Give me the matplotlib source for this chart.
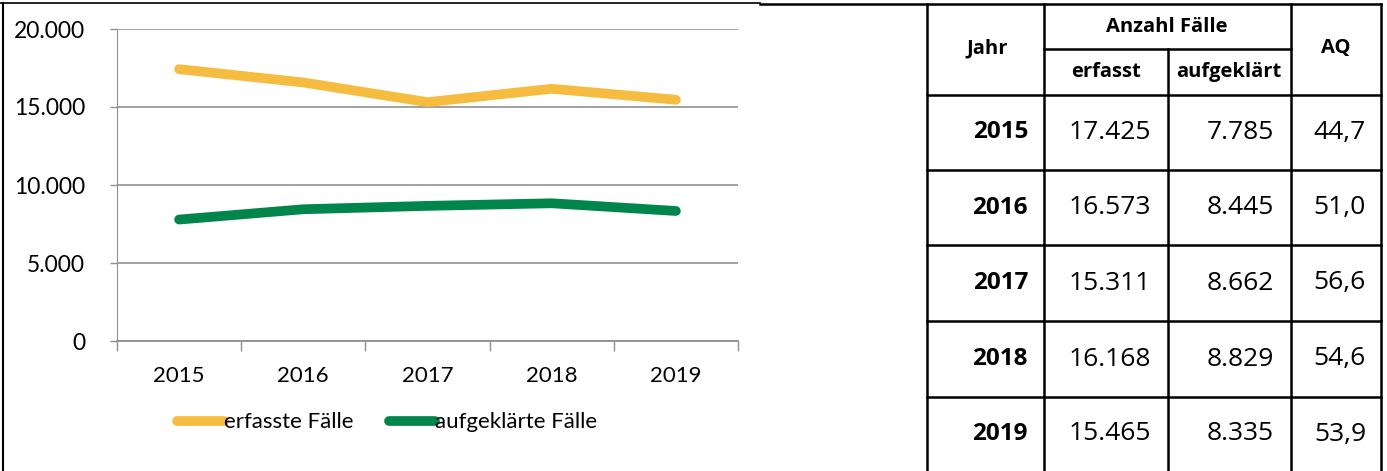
import numpy as np
import matplotlib.pyplot as plt
from matplotlib.lines import Line2D

jahre = [2015, 2016, 2017, 2018, 2019]
erfasst = [17425, 16573, 15311, 16168, 15465]
aufgeklaert = [7785, 8445, 8662, 8829, 8335]
aq = [44.7, 51.0, 56.6, 54.6, 53.9]

gelb = '#F6BC3F'
gruen = '#00854A'

W, H = 1387, 471

def px(x, y):
    # pixel coords -> figure fraction
    return x / W, 1 - y / H

def tausend(v):
    return f'{v:,.0f}'.replace(',', '.')

fig = plt.figure(figsize=(W / 100, H / 100), dpi=100)

chart_font = ['Lato', 'DejaVu Sans']
tab_font = ['Open Sans', 'DejaVu Sans']

# --- linienchart ---
ax = fig.add_axes([117 / W, 1 - 341 / H, (738 - 117) / W, (341 - 29) / H])
x = np.arange(len(jahre))
ax.plot(x, erfasst, color=gelb, lw=7, solid_capstyle='round', solid_joinstyle='round',
        label='erfasste Fälle')
ax.plot(x, aufgeklaert, color=gruen, lw=7, solid_capstyle='round', solid_joinstyle='round',
        label='aufgeklärte Fälle')
ax.set_xlim(-0.5, len(jahre) - 0.5)
ax.set_ylim(0, 20000)
ax.set_yticks(np.arange(0, 20001, 5000))
ax.set_yticklabels([tausend(v) for v in np.arange(0, 20001, 5000)], family=chart_font, fontsize=16.5)
ax.set_xticks(x)
ax.set_xticklabels([str(j) for j in jahre], family=chart_font, fontsize=16)
ax.set_xticks(np.arange(-0.5, len(jahre)), minor=True)
ax.tick_params(axis='x', which='major', length=0, pad=18)
ax.tick_params(axis='x', which='minor', length=7, width=1, color='#909090')
ax.tick_params(axis='y', length=5, width=1, color='#909090', pad=18)
ax.grid(axis='y', color='#9a9a9a', lw=1.3)
ax.set_axisbelow(True)
for s in ['top', 'right']:
    ax.spines[s].set_visible(False)
ax.spines['left'].set_color('#909090')
ax.spines['bottom'].set_color('#909090')
ax.spines['bottom'].set_linewidth(1.3)
leg = ax.legend(loc='upper center', bbox_to_anchor=(0.435, -0.165), ncol=2, frameon=False,
                handlelength=2.1, handletextpad=0.0, columnspacing=1.6,
                prop={'family': chart_font, 'size': 16})

# rahmen links/oben
fig.add_artist(Line2D([3 / W, 3 / W], [0, 1 - 3 / H], color='black', lw=1.5))
fig.add_artist(Line2D([0, 760 / W], [1 - 3 / H, 1 - 3 / H], color='black', lw=1.2))

# --- tabelle ---
xs = [927, 1044, 1168, 1291, 1381]
ys = [4, 95, 170, 245, 321, 397, 471]
lw = 1.8
fig.add_artist(Line2D([760 / W, xs[-1] / W], [1 - ys[0] / H] * 2, color='black', lw=lw))
for yy in ys[1:-1]:
    fig.add_artist(Line2D([xs[0] / W, xs[-1] / W], [1 - yy / H] * 2, color='black', lw=lw))
fig.add_artist(Line2D([xs[1] / W, xs[3] / W], [1 - 49 / H] * 2, color='black', lw=lw))
for i, xx in enumerate(xs):
    y0 = ys[0]
    if i == 2:
        y0 = 49
    fig.add_artist(Line2D([xx / W] * 2, [1 - y0 / H, 0], color='black', lw=lw))

hdr = dict(family=tab_font, fontsize=14.5, fontweight='bold', va='center', ha='center')
fig.text(*px(987, 48), 'Jahr', **hdr)
fig.text(*px(1167, 27), 'Anzahl Fälle', **hdr)
fig.text(*px(1106, 72), 'erfasst', **hdr)
fig.text(*px(1229, 72), 'aufgeklärt', **hdr)
fig.text(*px(1336, 48), 'AQ', **hdr)

cell = dict(family=tab_font, fontsize=19, va='center', ha='right')
for i, j in enumerate(jahre):
    yc = (ys[i + 1] + ys[i + 2]) / 2
    fig.text(*px(1028, yc), str(j), fontweight='bold',
             **{**cell, 'fontsize': 17.5})
    fig.text(*px(1151, yc), tausend(erfasst[i]), **cell)
    fig.text(*px(1274, yc), tausend(aufgeklaert[i]), **cell)
    fig.text(*px(1366, yc), f'{aq[i]:.1f}'.replace('.', ','), **cell)

fig.savefig('out.png', dpi=100)
